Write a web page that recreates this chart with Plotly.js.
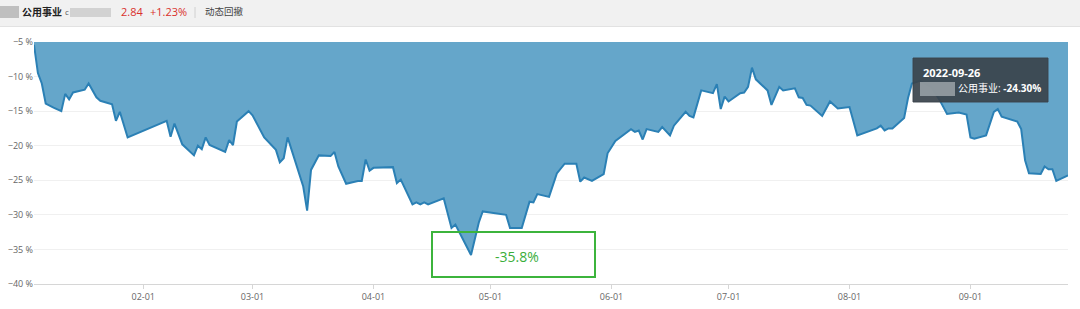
<!DOCTYPE html>
<html>
<head>
<meta charset="utf-8">
<script src="https://cdn.plot.ly/plotly-3.0.1.min.js"></script>
<style>html,body{margin:0;padding:0;background:#fff;}#chart{width:1080px;height:309px;}</style>
</head>
<body>
<div id="chart"></div>
<script>
// ---- data (drawdown, %) ----
const dates = [
 '2022-01-04','2022-01-05','2022-01-06','2022-01-07','2022-01-09','2022-01-11','2022-01-12','2022-01-13','2022-01-14','2022-01-17',
 '2022-01-18','2022-01-20','2022-01-21','2022-01-24','2022-01-25','2022-01-26','2022-01-28','2022-02-07','2022-02-08','2022-02-09',
 '2022-02-11','2022-02-14','2022-02-15','2022-02-16','2022-02-17','2022-02-18','2022-02-22','2022-02-23','2022-02-24','2022-02-25',
 '2022-02-28','2022-03-01','2022-03-04','2022-03-07','2022-03-08','2022-03-09','2022-03-10','2022-03-14','2022-03-15','2022-03-16',
 '2022-03-18','2022-03-21','2022-03-22','2022-03-23','2022-03-25','2022-03-28','2022-03-29','2022-03-30','2022-03-31','2022-04-01',
 '2022-04-06','2022-04-07','2022-04-08','2022-04-11','2022-04-12','2022-04-13','2022-04-14','2022-04-15','2022-04-19','2022-04-21',
 '2022-04-22','2022-04-26','2022-04-28','2022-04-29','2022-05-05','2022-05-06','2022-05-09','2022-05-11','2022-05-12','2022-05-13',
 '2022-05-16','2022-05-18','2022-05-20','2022-05-23','2022-05-24','2022-05-25','2022-05-27','2022-05-30','2022-05-31','2022-06-02',
 '2022-06-06','2022-06-07','2022-06-08','2022-06-09','2022-06-10','2022-06-13','2022-06-14','2022-06-16','2022-06-17','2022-06-20',
 '2022-06-21','2022-06-22','2022-06-24','2022-06-27','2022-06-28','2022-06-29','2022-06-30','2022-07-01','2022-07-04','2022-07-05',
 '2022-07-06','2022-07-07','2022-07-08','2022-07-11','2022-07-12','2022-07-14','2022-07-15','2022-07-18','2022-07-19','2022-07-20',
 '2022-07-21','2022-07-22','2022-07-25','2022-07-27','2022-07-29','2022-08-01','2022-08-03','2022-08-04','2022-08-08','2022-08-09',
 '2022-08-10','2022-08-11','2022-08-12','2022-08-15','2022-08-16','2022-08-17','2022-08-19','2022-08-22','2022-08-24','2022-08-26',
 '2022-08-29','2022-08-31','2022-09-01','2022-09-02','2022-09-05','2022-09-07','2022-09-08','2022-09-09','2022-09-13','2022-09-14',
 '2022-09-15','2022-09-16','2022-09-19','2022-09-20','2022-09-21','2022-09-22','2022-09-23','2022-09-26'
];
const drawdown = [
 -5.4,-9.5,-11.0,-13.9,-14.5,-15.0,-12.5,-13.3,-12.3,-11.9,
 -11.0,-13.0,-13.5,-14.0,-16.4,-15.1,-18.8,-16.4,-18.7,-16.8,
 -19.8,-21.4,-20.0,-20.5,-18.8,-19.9,-20.9,-19.2,-19.9,-16.5,
 -15.0,-15.6,-18.8,-20.6,-22.4,-21.8,-18.8,-25.9,-29.4,-23.5,
 -21.4,-21.5,-20.9,-23.0,-25.5,-25.1,-25.1,-22.0,-23.6,-23.2,
 -23.1,-25.4,-24.9,-28.5,-28.2,-28.5,-28.2,-28.5,-27.6,-31.9,
 -31.4,-35.8,-31.1,-29.5,-30.0,-31.9,-31.9,-28.1,-28.2,-27.0,
 -27.4,-24.0,-22.6,-22.6,-25.2,-24.6,-25.1,-24.1,-21.1,-19.3,
 -17.6,-18.0,-17.8,-19.1,-17.6,-18.0,-17.3,-18.5,-17.1,-15.1,
 -15.7,-15.9,-12.0,-12.4,-11.1,-14.7,-12.9,-13.6,-12.4,-12.3,
 -11.5,-8.7,-10.4,-12.0,-14.1,-11.5,-12.0,-11.7,-13.0,-13.1,
 -14.1,-14.2,-15.7,-13.6,-14.6,-14.4,-18.5,-18.3,-17.5,-17.1,
 -17.8,-17.5,-17.5,-16.0,-13.1,-11.0,-10.6,-11.5,-13.3,-15.4,
 -15.2,-15.5,-18.8,-19.0,-18.5,-15.1,-14.7,-15.8,-16.5,-17.6,
 -22.1,-24.0,-24.1,-23.0,-23.4,-23.4,-25.1,-24.3
];
const tickDates = ['2022-02-01','2022-03-01','2022-04-01','2022-05-01','2022-06-01','2022-07-01','2022-08-01','2022-09-01'];
const tickLabels = ['02-01','03-01','04-01','05-01','06-01','07-01','08-01','09-01'];
const seriesName = '公用事业';
const headerPrice = '2.84';
const headerChange = '+1.23%';
const headerTab = '动态回撤';
const minLabel = '-35.8%';
const tipDate = '2022-09-26';
const tipValue = '-24.30%';

// ---- layout helpers (pixel -> paper) ----
const W = 1080, H = 309, M = {l: 34, r: 12, t: 42, b: 25};
const PW = W - M.l - M.r, PH = H - M.t - M.b;
const px = x => (x - M.l) / PW;
const py = y => (H - M.b - y) / PH;
const FONT = '"Open Sans", "Noto Sans CJK SC", sans-serif';

const trace = {
  x: dates, y: drawdown, type: 'scatter', mode: 'lines',
  fill: 'tozeroy', fillcolor: '#65a6ca',
  line: {color: '#2b80b5', width: 2},
  hoverinfo: 'skip', name: seriesName
};

function rect(x0, y0, x1, y1, fill, line, lw) {
  return {type: 'rect', xref: 'paper', yref: 'paper', x0: px(x0), x1: px(x1), y0: py(y1), y1: py(y0),
    fillcolor: fill, line: {color: line || 'rgba(0,0,0,0)', width: lw || 0}, layer: 'above'};
}
function ann(text, x, y, opts) {
  return Object.assign({text: text, xref: 'paper', yref: 'paper', x: px(x), y: py(y), showarrow: false,
    xanchor: 'left', yanchor: 'middle', font: {family: FONT, size: 11, color: '#333'}}, opts || {});
}

const shapes = [
  rect(0, 0, 1080, 26, '#f1f1f1'),
  {type: 'line', xref: 'paper', yref: 'paper', x0: px(0), x1: px(1080), y0: py(26.5), y1: py(26.5), line: {color: '#e2e2e2', width: 1}},
  rect(0, 6, 19, 18, 'rgba(150,150,150,0.55)'),
  rect(70, 8, 111, 17, 'rgba(190,190,190,0.6)'),
  {type: 'line', xref: 'paper', yref: 'paper', x0: px(195), x1: px(195), y0: py(7), y1: py(18), line: {color: '#d0d0d0', width: 1}},
  // min annotation box
  rect(432, 232, 595, 277, 'rgba(0,0,0,0)', '#3cb43c', 2),
  // tooltip
  rect(913, 58, 1048, 102, 'rgba(58,68,76,0.93)', 'rgba(58,68,76,0.93)', 1),
  rect(920, 82, 955, 96, 'rgba(150,158,164,0.9)')
];

const annotations = [
  ann('<b>' + seriesName + '</b>', 20, 12, {font: {family: FONT, size: 10, color: '#222'}}),
  ann('c', 63, 12, {font: {family: FONT, size: 8, color: '#555'}}),
  ann(headerPrice, 119, 12, {font: {family: FONT, size: 11, color: '#d9302c'}}),
  ann(headerChange, 148, 12, {font: {family: FONT, size: 11, color: '#d9302c'}}),
  ann(headerTab, 203, 12, {font: {family: FONT, size: 9.5, color: '#444'}}),
  ann(minLabel, 517, 256, {xanchor: 'center', font: {family: FONT, size: 14, color: '#3aae3a'}}),
  ann('<b>' + tipDate + '</b>', 921, 72, {font: {family: FONT, size: 11, color: '#ffffff'}}),
  ann(seriesName + ': <b>' + tipValue + '</b>', 956, 88, {font: {family: FONT, size: 10, color: '#ffffff'}})
];

const layout = {
  width: W, height: H,
  margin: {l: M.l, r: M.r, t: M.t, b: M.b, pad: 0},
  paper_bgcolor: '#ffffff', plot_bgcolor: '#ffffff',
  showlegend: false,
  font: {family: FONT, size: 9, color: '#666'},
  xaxis: {
    type: 'date', range: ['2022-01-04', '2022-09-26'],
    tickvals: tickDates, ticktext: tickLabels,
    showgrid: false, zeroline: false,
    showline: true, linecolor: '#d6d6d6', linewidth: 1,
    ticks: 'outside', ticklen: 4, tickcolor: '#d6d6d6',
    tickfont: {family: FONT, size: 9, color: '#666'}
  },
  yaxis: {
    range: [-40, -5], dtick: 5, tick0: -40,
    ticksuffix: ' %', showgrid: true, gridcolor: '#f0f0f0', gridwidth: 1,
    zeroline: false, showline: false, ticks: '',
    tickfont: {family: FONT, size: 9, color: '#666'}
  },
  shapes: shapes,
  annotations: annotations
};

Plotly.newPlot('chart', [trace], layout, {staticPlot: true, displayModeBar: false});
</script>
</body>
</html>
